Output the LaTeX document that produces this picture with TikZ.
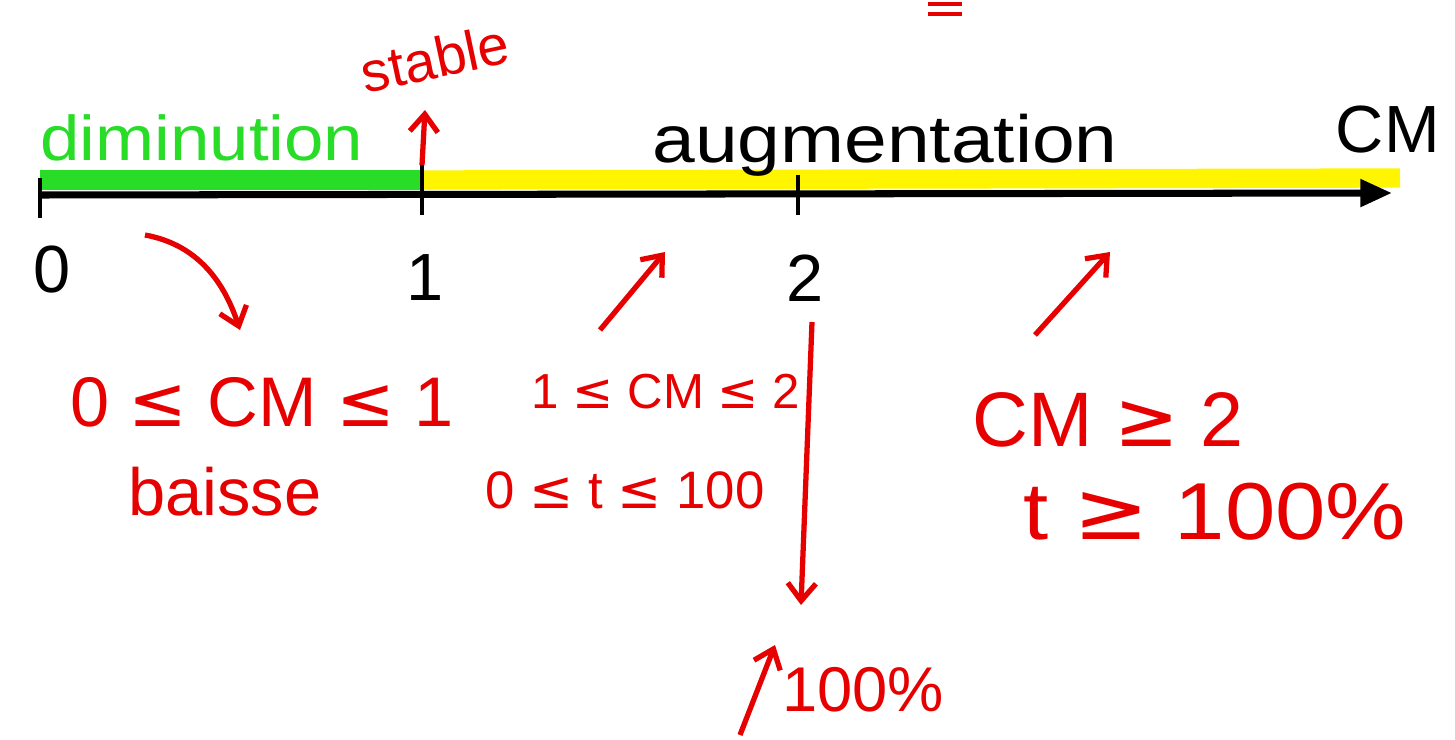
\documentclass[tikz,border=0pt]{standalone}
\usepackage{fontspec}
\setmainfont{Liberation Sans}
\newfontfamily\symf{DejaVu Sans}
\usetikzlibrary{arrows.meta}
\definecolor{hred}{RGB}{230,0,0}
\definecolor{hgreen}{RGB}{40,220,40}
\definecolor{hyellow}{RGB}{255,245,0}
\newcommand{\myle}{{\symf ≤}}
\newcommand{\myge}{{\symf ≥}}
\tikzset{
  redtxt/.style={text=hred, inner sep=0pt, font=\fontsize{38}{40}\selectfont},
  blktxt/.style={text=black, inner sep=0pt, font=\fontsize{38}{40}\selectfont},
  redarrow/.style={draw=hred, line width=3pt, -{Straight Barb[length=10pt,width=16pt,line width=3pt]}},
  band/.style={line width=11pt},
  tick/.style={draw=black, line width=2.2pt}
}
\begin{document}
\begin{tikzpicture}[x=0.02cm,y=-0.02cm]
\useasboundingbox (0,0) rectangle (1455,740);
% bands
\coordinate (g0) at (40,180);
\coordinate (g1) at (422,180);
\coordinate (y1) at (1400,178);
\draw[band, hgreen] (g0) -- (g1);
\draw[band, hyellow] (g1) -- (y1);
% axis
\coordinate (a0) at (40,195);
\coordinate (a1) at (1392,193);
\draw[line width=4pt, -{Triangle[length=18pt,width=15pt]}] (a0) -- (a1);
\coordinate (t0a) at (40,178); \coordinate (t0b) at (40,218);
\coordinate (t1a) at (422,165); \coordinate (t1b) at (422,215);
\coordinate (t2a) at (798,175); \coordinate (t2b) at (798,215);
\draw[tick] (t0a) -- (t0b);
\draw[tick] (t1a) -- (t1b);
\draw[tick] (t2a) -- (t2b);
% top red = mark
\coordinate (e1) at (928,4); \coordinate (e2) at (962,4);
\coordinate (e3) at (928,14); \coordinate (e4) at (962,14);
\draw[hred, line width=2.5pt] (e1) -- (e2);
\draw[hred, line width=2.5pt] (e3) -- (e4);
% labels on axis
\node[blktxt] (n0) at (52,270) {0};
\node[blktxt] (n1) at (425,278) {1};
\node[blktxt] (n2) at (805,278) {2};
\node[blktxt, anchor=east] (cm) at (1440,130) {CM};
\node[text=hgreen, inner sep=0pt, font=\fontsize{36}{40}\selectfont, anchor=west, xscale=1.12] (dim) at (40,138) {diminution};
\node[blktxt, anchor=west, font=\fontsize{38}{44}\selectfont, xscale=1.15] (aug) at (652,145) {augmentation};
\node[redtxt, rotate=12, font=\fontsize{32}{40}\selectfont] (stab) at (435,58) {stable};
% stable arrow
\coordinate (st) at (425,110);
\draw[redarrow] (t1a) -- (st);
% curved arrow
\coordinate (c0) at (145,235); \coordinate (c1) at (240,330);
\draw[redarrow] (c0) .. controls (200,245) and (225,285) .. (c1);
\coordinate (s0) at (600,330); \coordinate (s1) at (665,252);
\draw[redarrow] (s0) -- (s1);
\coordinate (r0) at (1035,335); \coordinate (r1) at (1110,252);
\draw[redarrow] (r0) -- (r1);
% vertical arrow
\coordinate (v0) at (812,322); \coordinate (v1) at (801,605);
\draw[redarrow] (v0) -- (v1);
% red texts
\node[redtxt, font=\fontsize{40}{44}\selectfont] (l1) at (262,402) {0 \myle{} CM \myle{} 1};
\node[redtxt] (l2) at (225,492) {baisse};
\node[redtxt, font=\fontsize{28}{32}\selectfont] (l3) at (666,392) {1 \myle{} CM \myle{} 2};
\node[redtxt, font=\fontsize{30}{34}\selectfont] (l4) at (625,490) {0 \myle{} t \myle{} 100};
\node[redtxt, font=\fontsize{44}{48}\selectfont] (l5) at (1108,420) {CM \myge{} 2};
\node[redtxt, font=\fontsize{46}{48}\selectfont, xscale=1.12] (l6) at (1215,512) {t \myge{} 100\%};
% bottom
\coordinate (b0) at (740,735); \coordinate (b1) at (775,645);
\draw[redarrow] (b0) -- (b1);
\node[redtxt, anchor=west, font=\fontsize{36}{40}\selectfont] (l7) at (782,690) {100\%};
\end{tikzpicture}
\end{document}
